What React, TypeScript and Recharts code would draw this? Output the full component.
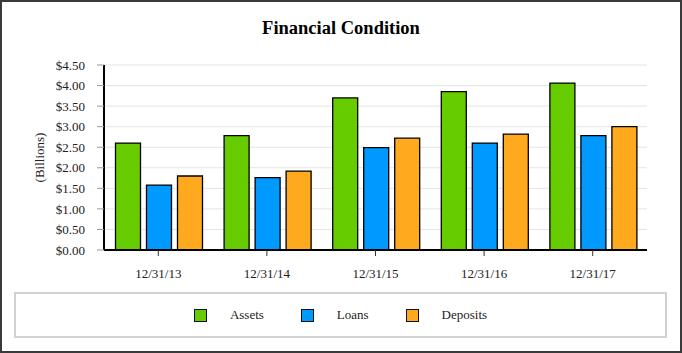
import React from 'react'
import { BarChart, Bar, CartesianGrid, XAxis, YAxis } from 'recharts'

const dates = ['12/31/13', '12/31/14', '12/31/15', '12/31/16', '12/31/17']
const assets = [2.6, 2.78, 3.7, 3.85, 4.06]
const loans = [1.58, 1.76, 2.49, 2.6, 2.78]
const deposits = [1.8, 1.92, 2.72, 2.82, 3.0]
const yTicks = [0, 0.5, 1, 1.5, 2, 2.5, 3, 3.5, 4, 4.5]

const series = [
  { key: 'assets', name: 'Assets', color: '#66CC00' },
  { key: 'loans', name: 'Loans', color: '#0099FF' },
  { key: 'deposits', name: 'Deposits', color: '#FFAA1E' }
]

const data = dates.map((d, i) => ({
  date: d,
  assets: assets[i],
  loans: loans[i],
  deposits: deposits[i]
}))

const font = '"Liberation Serif", "Times New Roman", serif'

export default function App() {
  return (
    <div
      style={{
        position: 'fixed',
        left: 0,
        top: 0,
        width: 682,
        height: 353,
        background: '#fff',
        fontFamily: font
      }}
    >
      <div
        style={{
          position: 'absolute',
          top: 18,
          width: 682,
          textAlign: 'center',
          fontWeight: 'bold',
          fontSize: 18.5,
          color: '#000'
        }}
      >
        Financial Condition
      </div>
      <div style={{ position: 'absolute', left: 0, top: 0 }}>
        <BarChart
          width={682}
          height={353}
          data={data}
          margin={{ top: 65, right: 35, bottom: 73, left: 0 }}
          barCategoryGap={11.5}
          barGap={6}
        >
          <CartesianGrid vertical={false} stroke="#e4e4e4" />
          <XAxis
            dataKey="date"
            height={30}
            tickSize={6}
            tickMargin={13}
            axisLine={{ stroke: '#000', strokeWidth: 2 }}
            tickLine={{ stroke: '#333' }}
            tick={{ fill: '#222', fontSize: 13, fontFamily: font }}
          />
          <YAxis
            width={104}
            domain={[0, 4.5]}
            ticks={yTicks}
            interval={0}
            tickSize={7}
            tickMargin={12}
            tickFormatter={(v: number) => `$${v.toFixed(2)}`}
            axisLine={{ stroke: '#000', strokeWidth: 2 }}
            tickLine={{ stroke: '#999' }}
            tick={{ fill: '#222', fontSize: 13, fontFamily: font }}
            label={{
              value: '(Billions)',
              angle: -90,
              position: 'center',
              dx: -13,
              style: { fill: '#222', fontSize: 13, fontFamily: font }
            }}
          />
          {series.map((s) => (
            <Bar
              key={s.key}
              dataKey={s.key}
              name={s.name}
              fill={s.color}
              stroke="#000"
              strokeWidth={1.3}
              isAnimationActive={false}
            />
          ))}
        </BarChart>
      </div>
      <div
        style={{
          position: 'absolute',
          left: 14,
          top: 292,
          width: 653,
          height: 46,
          boxSizing: 'border-box',
          border: '2px solid #d2d2d2',
          display: 'flex',
          alignItems: 'center',
          justifyContent: 'center',
          gap: 37,
          fontSize: 13,
          color: '#222'
        }}
      >
        {series.map((s) => (
          <div key={s.key} style={{ display: 'flex', alignItems: 'center' }}>
            <span
              style={{
                display: 'inline-block',
                width: 13,
                height: 13,
                boxSizing: 'border-box',
                background: s.color,
                border: '1.5px solid #111',
                marginRight: 23
              }}
            />
            <span>{s.name}</span>
          </div>
        ))}
      </div>
      <div
        style={{
          position: 'absolute',
          inset: 0,
          border: '2px solid #3a3a3a',
          pointerEvents: 'none'
        }}
      />
    </div>
  )
}
